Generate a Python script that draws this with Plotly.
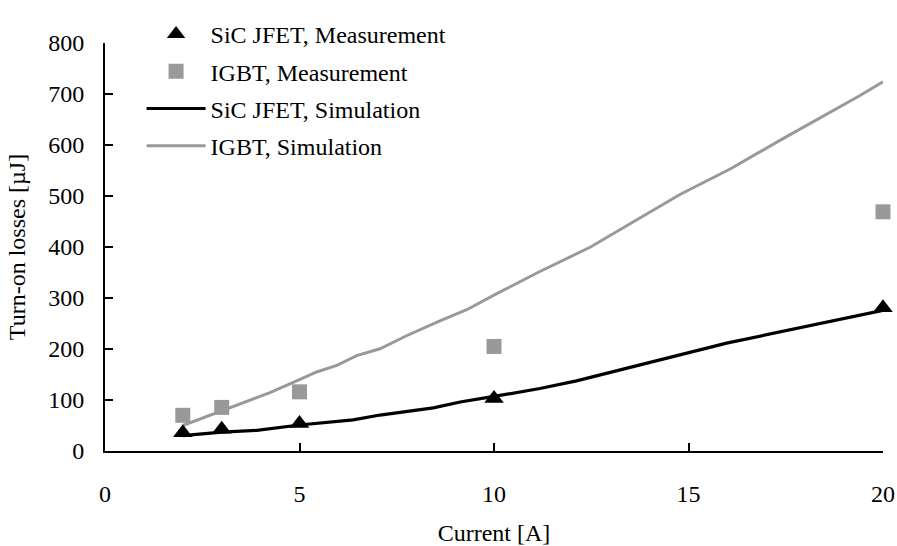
import plotly.graph_objects as go

# Measurements
meas_x = [2, 3, 5, 10, 20]
jfet_meas = [36, 42.5, 54, 103, 281]
igbt_meas = [70, 85.5, 116, 205, 469]

# Simulations
jfet_sim_x = [2.0, 3.0, 3.9, 5.0, 6.38, 7.07, 8.44, 9.13, 10.0, 11.18, 12.12, 15.0, 15.98, 20.0]
jfet_sim_y = [30, 37, 40.5, 51, 61, 70.5, 84.5, 96, 107, 122.5, 137.5, 191.5, 211.5, 276]

igbt_sim_x = [2.0, 3.0, 4.24, 5.0, 5.44, 5.96, 6.47, 7.07, 7.75, 8.61, 9.3, 10.07, 11.18, 12.47, 14.78, 16.07, 17.35, 19.41, 20.0]
igbt_sim_y = [50, 79, 114.5, 140, 155, 168, 187, 200.5, 226, 255, 277, 308.5, 352, 399.5, 503, 553, 609, 697, 724]

x_ticks = [0, 5, 10, 15, 20]
y_ticks = [0, 100, 200, 300, 400, 500, 600, 700, 800]

BLACK = "#000000"
GRAY = "#999999"
FONT = "Liberation Serif"
FS = 24

fig = go.Figure()
fig.add_trace(go.Scatter(x=jfet_sim_x, y=jfet_sim_y, mode="lines", name="SiC JFET, Simulation",
                         legendgroup="c", legendrank=3,
                         line=dict(color=BLACK, width=3.2)))
fig.add_trace(go.Scatter(x=igbt_sim_x, y=igbt_sim_y, mode="lines", name="IGBT, Simulation",
                         legendgroup="d", legendrank=4,
                         line=dict(color=GRAY, width=3)))
fig.add_trace(go.Scatter(x=meas_x, y=jfet_meas, mode="markers", name="SiC JFET, Measurement",
                         legendgroup="a", legendrank=1, cliponaxis=False,
                         marker=dict(symbol="triangle-up", size=17, color=BLACK)))
fig.add_trace(go.Scatter(x=meas_x, y=igbt_meas, mode="markers", name="IGBT, Measurement",
                         legendgroup="b", legendrank=2, cliponaxis=False,
                         marker=dict(symbol="square", size=15, color=GRAY)))

fig.update_layout(
    width=897, height=546,
    margin=dict(l=105, r=14, t=25, b=95),
    paper_bgcolor="white", plot_bgcolor="white",
    font=dict(family=FONT, size=FS, color=BLACK),
    showlegend=True,
    legend=dict(x=0.047, y=1.076, xanchor="left", yanchor="top",
                bgcolor="rgba(0,0,0,0)", tracegroupgap=3, itemwidth=59,
                font=dict(family=FONT, size=FS, color=BLACK)),
    xaxis=dict(range=[0, 20], tickvals=x_ticks, ticks="inside", ticklen=8, tickwidth=2,
               tickcolor=BLACK, showline=True, linecolor=BLACK, linewidth=2,
               showgrid=False, zeroline=False, ticklabelstandoff=20, automargin=False,
               ticklabeloverflow="allow",
               tickfont=dict(family=FONT, size=FS, color=BLACK),
               title=dict(text="Current [A]", standoff=18,
                          font=dict(family=FONT, size=FS, color=BLACK))),
    yaxis=dict(range=[0, 800], tickvals=y_ticks, ticks="inside", ticklen=8, tickwidth=2,
               tickcolor=BLACK, showline=True, linecolor=BLACK, linewidth=2,
               showgrid=False, zeroline=False, ticklabelstandoff=14, automargin=False,
               tickfont=dict(family=FONT, size=FS, color=BLACK),
               title=dict(text="Turn-on losses [µJ]", standoff=16,
                          font=dict(family=FONT, size=FS, color=BLACK))),
)

# remove the default page margin so the 897x546 figure fills the window exactly
fig.write_html("out.html",
               config={"displayModeBar": False},
               post_script="document.body.style.margin='0';document.body.style.overflow='hidden';")
